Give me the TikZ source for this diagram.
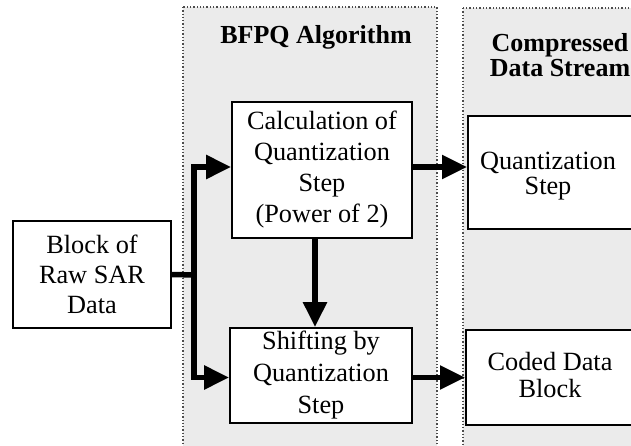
\documentclass[tikz,border=0pt]{standalone}
\usepackage{fontspec}
\setmainfont{Liberation Serif}
\usetikzlibrary{arrows.meta,calc}

\tikzset{
  panel/.style={draw=black!70, dotted, line width=1.3pt, fill=black!8},
  procbox/.style={draw=black, line width=1.8pt, fill=white, align=center, inner sep=0pt},
  plain/.style={align=center, inner sep=0pt},
  title/.style={align=center, inner sep=0pt, font=\fontsize{26}{25}\selectfont\bfseries},
  flow/.style={line width=5.5pt, -{Triangle[length=25pt,width=23pt]}},
  bus/.style={line width=5.5pt},
}

\begin{document}
\begin{tikzpicture}[x=1pt, y=-1pt, font=\fontsize{26.3}{31}\selectfont]
  \useasboundingbox (0,0) rectangle (631,446);
  \clip (0,0) rectangle (631,446);

  % background panels
  \path[panel] (183,7) rectangle (437,460);
  \path[panel] (463,8) rectangle (660,460);

  % panel titles
  \node[title] (algtitle) at (316,37) {BFPQ Algorithm};
  \node[title] (streamtitle) at (560,55) {Compressed\\Data Stream};

  % input block
  \node[procbox, minimum width=158pt, minimum height=107pt,
        font=\fontsize{26.3}{30}\selectfont] (raw) at (92,274.5)
        {Block of\\Raw SAR\\Data};

  % algorithm stages
  \node[procbox, minimum width=180pt, minimum height=136pt] (calc) at (322,170)
        {Calculation of\\Quantization\\Step\\(Power of 2)};
  \node[procbox, minimum width=182pt, minimum height=95pt,
        font=\fontsize{26.3}{32}\selectfont] (shift) at (321,375.5)
        {Shifting by\\Quantization\\Step};

  % output stream boxes (running past the right edge)
  \node[procbox, minimum width=195pt, minimum height=113pt, anchor=west] (qbox) at (467,172.5) {};
  \node[plain, font=\fontsize{26.3}{25}\selectfont] (qtext) at (548,176) {Quantization\\Step};
  \node[procbox, minimum width=195pt, minimum height=95pt, anchor=west] (cbox) at (465,377.5) {};
  \node[plain, font=\fontsize{26.3}{27}\selectfont] (ctext) at (550,375) {Coded Data\\Block};

  % connectors
  \coordinate (split) at (194,275);
  \draw[bus] (raw.east) -- (split);
  \draw[flow] ([yshift=-2.75pt]split) |- ([yshift=3pt]calc.west);
  \draw[flow] ([yshift=2.75pt]split) |- ([yshift=-2pt]shift.west);
  \draw[flow] ([xshift=-7pt]calc.south) -- ([xshift=-7pt]calc.south |- shift.north);
  \draw[flow] ([yshift=3pt]calc.east) -- ([yshift=3pt]calc.east -| qbox.west);
  \draw[flow] ([yshift=-2pt]shift.east) -- ([yshift=-2pt]shift.east -| cbox.west);
\end{tikzpicture}
\end{document}
